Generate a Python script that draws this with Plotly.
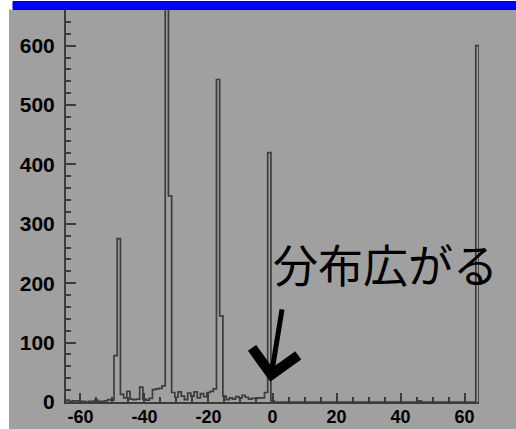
import plotly.graph_objects as go

# ---------------- data ----------------
bin_width = 1.0
first_center = -64
counts_neg = [
    3, 1, 2, 2, 1, 1, 0, 1, 1, 3, 1, 1, 2, 4, 3,        # -64 .. -50
    78, 275, 13, 7, 18, 5, 4, 5, 25, 5, 3, 6, 21, 22, 23, 27,  # -49 .. -34
    720, 347,                                            # -33, -32
    16, 8, 17, 10, 4, 15, 10, 17, 7, 14, 9, 16, 18, 22,  # -31 .. -18
    543, 145,                                            # -17, -16
    10, 4, 7, 5, 9, 7, 11, 8, 5, 6, 6, 7, 7, 16,         # -15 .. -2
    420, 2,                                              # -1, 0
]
counts_pos = [0] * 45 + [2] + [0] * 17 + [600]          # 1 .. 64
counts = counts_neg + counts_pos

y_ticks = [0, 100, 200, 300, 400, 500, 600]
x_ticks = [-60, -40, -20, 0, 20, 40, 60]
note_text = "分布広がる"

# ---------------- step outline built from the bins ----------------
n = len(counts)
edges = [first_center - bin_width / 2 + i * bin_width for i in range(n + 1)]
xs = [edges[0]] + edges[:-1] + [edges[-1]]
ys = [0] + counts + [0]

W, H = 516, 429
ML, MR, MT, MB = 66, 37, 10, 27
PW, PH = W - ML - MR, H - MT - MB

def px_x(p):
    return (p - ML) / PW

def px_y(p):
    return (H - MB - p) / PH

gray = "#a0a0a0"
dark = "#3c3c3c"

fig = go.Figure()
fig.add_trace(go.Scatter(
    x=xs, y=ys, mode="lines", line=dict(color=dark, width=1.7, shape="hv"),
    hoverinfo="skip", showlegend=False,
))

yfont = dict(family="Liberation Sans, Arial, sans-serif", size=21, color="black", weight="bold")
xfont = dict(family="Liberation Sans, Arial, sans-serif", size=18, color="black", weight="bold")

fig.update_layout(
    width=W, height=H,
    margin=dict(l=ML, r=MR, t=MT, b=MB, pad=0, autoexpand=False),
    paper_bgcolor=gray, plot_bgcolor=gray,
    showlegend=False,
    xaxis=dict(
        range=[edges[0], edges[-1]], tickvals=x_ticks, ticktext=[str(v) for v in x_ticks],
        ticks="inside", ticklen=9, tickwidth=1.5, tickcolor=dark,
        minor=dict(dtick=5, tick0=0, ticks="inside", ticklen=5, tickwidth=1.5, tickcolor=dark),
        showline=True, linecolor=dark, linewidth=2, showgrid=False, zeroline=False,
        tickfont=xfont, ticklabelstandoff=-3, automargin=False,
    ),
    yaxis=dict(
        range=[0, 660], tickvals=y_ticks, ticktext=[str(v) for v in y_ticks],
        ticks="inside", ticklen=10, tickwidth=1.5, tickcolor=dark,
        minor=dict(dtick=20, tick0=0, ticks="inside", ticklen=5, tickwidth=1.5, tickcolor=dark),
        showline=True, linecolor=dark, linewidth=2, showgrid=False, zeroline=False,
        tickfont=yfont, ticklabelstandoff=5, automargin=False,
    ),
    shapes=[
        dict(type="rect", xref="paper", yref="paper", x0=px_x(-5), x1=px_x(9),
             y0=px_y(H + 5), y1=px_y(-5), fillcolor="white", line=dict(width=0), layer="above"),
        dict(type="rect", xref="paper", yref="paper", x0=px_x(-5), x1=px_x(W + 5),
             y0=px_y(9.5), y1=px_y(-5), fillcolor="white", line=dict(width=0), layer="above"),
        dict(type="rect", xref="paper", yref="paper", x0=px_x(13), x1=px_x(W + 10),
             y0=px_y(9.5), y1=px_y(1.5), fillcolor="#0000ff", line=dict(color="#0000c8", width=1),
             layer="above"),
    ],
    annotations=[
        dict(x=35.4, y=234, xref="x", yref="y", text=note_text, showarrow=False,
             xanchor="center", yanchor="middle",
             font=dict(family="Noto Sans CJK JP", size=45, color="black")),
        dict(x=-0.7, y=34, xref="x", yref="y", text="", showarrow=True,
             ax=12, ay=-74, arrowhead=4, arrowsize=1.8, arrowwidth=5, arrowcolor="black",
             standoff=0),
    ],
)

fig.write_html(
    "out.html",
    config={"displayModeBar": False},
    post_script="document.body.style.margin='0';document.body.style.padding='0';",
)
